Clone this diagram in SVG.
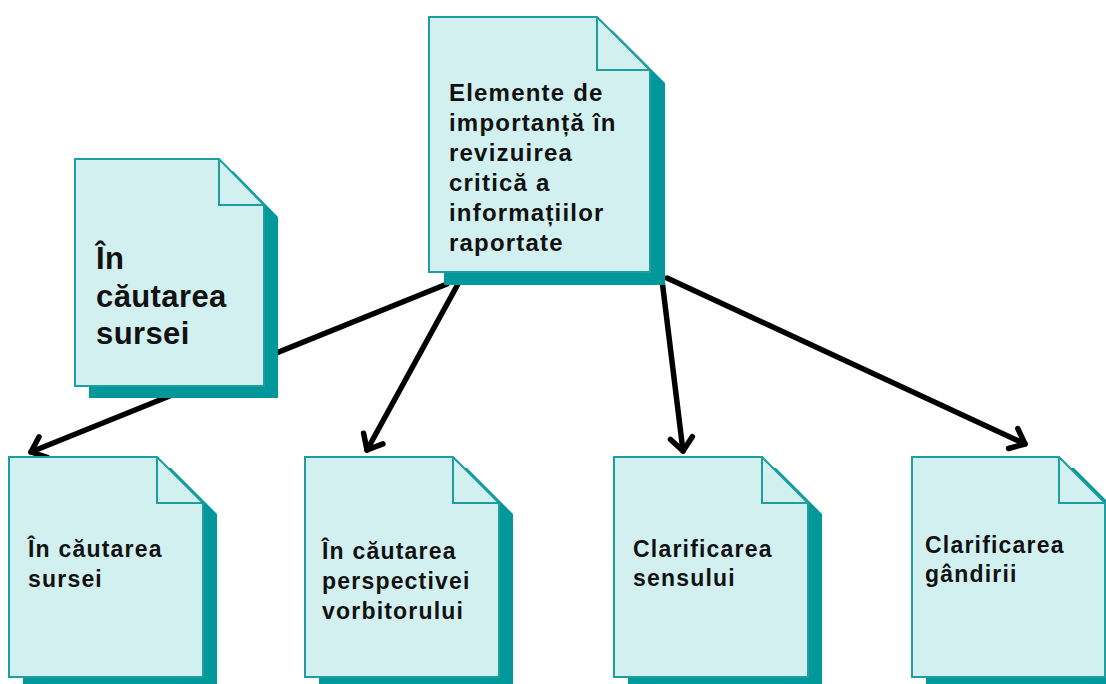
<svg xmlns="http://www.w3.org/2000/svg" width="1106" height="684" viewBox="0 0 1106 684">
  <style>
    .page { fill: #D2F0F0; stroke: #1E9E9E; stroke-width: 2; stroke-linejoin: miter; }
    .fold { fill: none; stroke: #1E9E9E; stroke-width: 2; }
    .shadow { fill: #00989B; }
    .label { font-family: "Liberation Sans", Arial, sans-serif; font-weight: bold; fill: #111; }
    .t24 { font-size: 24px; letter-spacing: 1.2px; }
    .t23 { font-size: 23px; letter-spacing: 1.2px; }
    .t31 { font-size: 31px; letter-spacing: 0.4px; }
    .link { fill: none; stroke: #000; stroke-width: 5.5; stroke-linecap: round; marker-end: url(#vhead); }
  </style>
  <defs>
    <marker id="vhead" markerUnits="userSpaceOnUse" viewBox="-20 -16 24 32" refX="0" refY="0" markerWidth="24" markerHeight="32" orient="auto">
      <path d="M-13,-11 L0,0 L-13,11" fill="none" stroke="#000" stroke-width="5.5" stroke-linecap="round" stroke-linejoin="round"/>
    </marker>
  </defs>
  <rect width="1106" height="684" fill="#FFFFFF"/>

  <!-- connectors, drawn beneath the pages -->
  <g id="connectors">
    <line class="link" x1="447" y1="284" x2="31" y2="452"/>
    <line class="link" x1="458" y1="284" x2="367" y2="450"/>
    <line class="link" x1="662" y1="280" x2="683" y2="451"/>
    <line class="link" x1="667" y1="278" x2="1025" y2="444"/>
  </g>

  <!-- root page -->
  <g id="node-root">
    <path class="shadow" d="M444,30 H612 L665,83 V285 H444 Z"/>
    <path class="page" d="M429,17 H597 L650,70 V272 H429 Z"/>
    <path class="fold" d="M597,17 V70 H650"/>
    <text class="label t24" x="449" y="101">Elemente de</text>
    <text class="label t24" x="449" y="131">importanță în</text>
    <text class="label t24" x="449" y="161">revizuirea</text>
    <text class="label t24" x="449" y="191">critică a</text>
    <text class="label t24" x="449" y="221">informațiilor</text>
    <text class="label t24" x="449" y="251">raportate</text>
  </g>

  <!-- side page -->
  <g id="node-side">
    <path class="shadow" d="M89,171 H233 L278,217 V398 H89 Z"/>
    <path class="page" d="M75,159 H219 L264,205 V386 H75 Z"/>
    <path class="fold" d="M219,159 V205 H264"/>
    <text class="label t31" x="96" y="269">În</text>
    <text class="label t31" x="96" y="307">căutarea</text>
    <text class="label t31" x="96" y="344">sursei</text>
  </g>

  <!-- bottom row -->
  <g id="node-source">
    <path class="shadow" d="M23,468 H171 L217,514 V690 H23 Z"/>
    <path class="page" d="M9,457 H157 L203,503 V677 H9 Z"/>
    <path class="fold" d="M157,457 V503 H203"/>
    <text class="label t23" x="28" y="557">În căutarea</text>
    <text class="label t23" x="28" y="587">sursei</text>
  </g>

  <g id="node-perspective">
    <path class="shadow" d="M319,468 H467 L513,514 V690 H319 Z"/>
    <path class="page" d="M305,457 H453 L499,503 V677 H305 Z"/>
    <path class="fold" d="M453,457 V503 H499"/>
    <text class="label t23" x="322" y="559">În căutarea</text>
    <text class="label t23" x="322" y="589">perspectivei</text>
    <text class="label t23" x="322" y="619">vorbitorului</text>
  </g>

  <g id="node-meaning">
    <path class="shadow" d="M628,468 H776 L822,514 V690 H628 Z"/>
    <path class="page" d="M614,457 H762 L808,503 V677 H614 Z"/>
    <path class="fold" d="M762,457 V503 H808"/>
    <text class="label t23" x="633" y="557">Clarificarea</text>
    <text class="label t23" x="633" y="586">sensului</text>
  </g>

  <g id="node-thinking">
    <path class="shadow" d="M926,468 H1074 L1120,514 V690 H926 Z"/>
    <path class="page" d="M912,457 H1059 L1105,503 V677 H912 Z"/>
    <path class="fold" d="M1059,457 V503 H1105"/>
    <text class="label t23" x="925" y="553">Clarificarea</text>
    <text class="label t23" x="925" y="582">gândirii</text>
  </g>
</svg>
